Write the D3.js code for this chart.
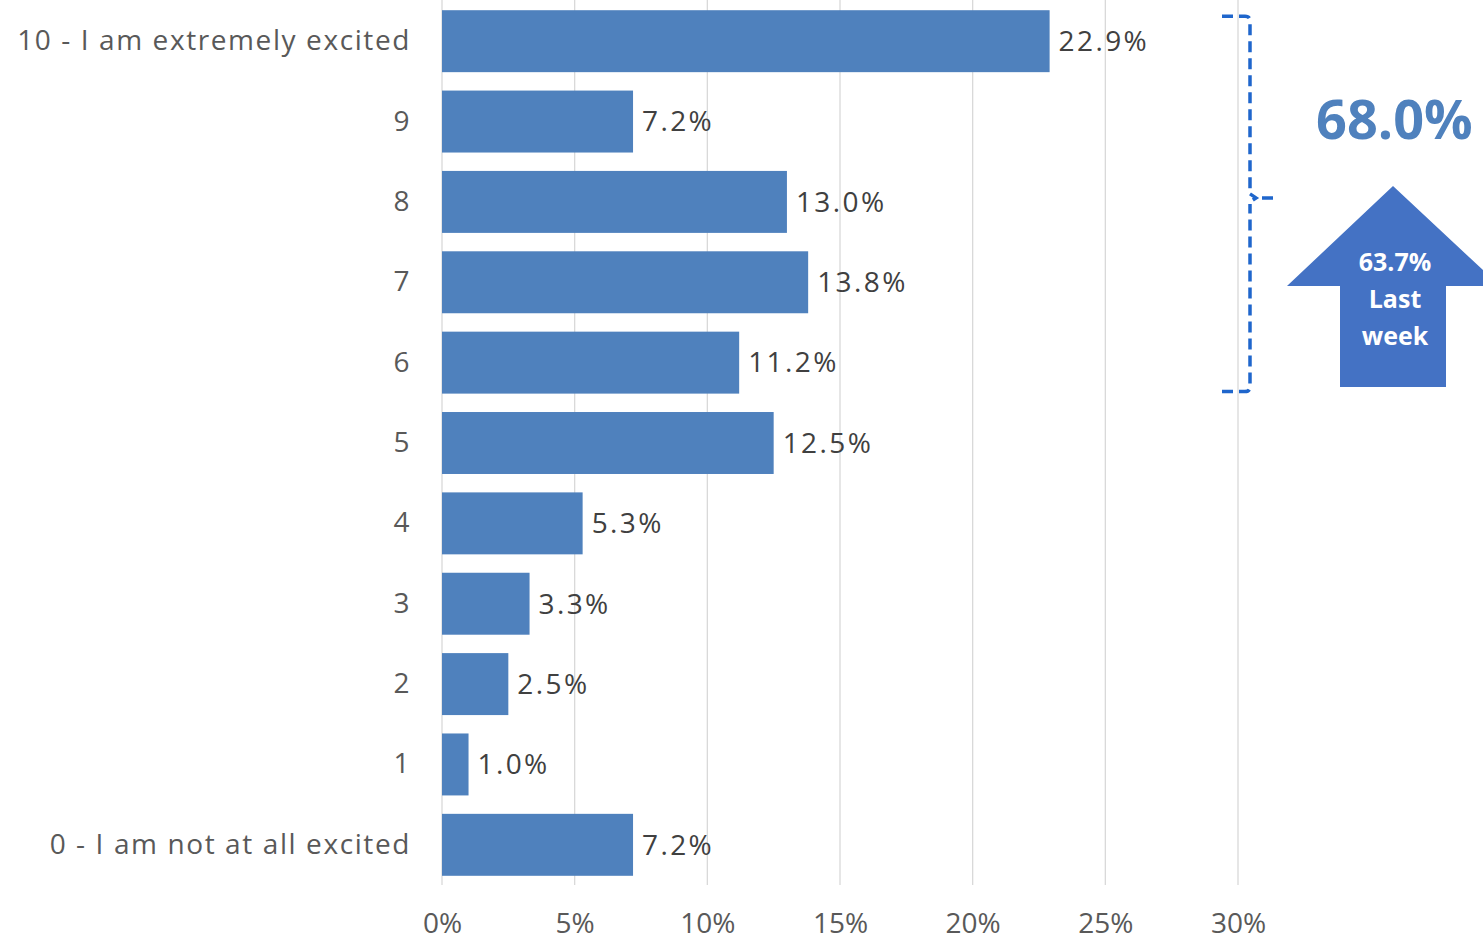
<!DOCTYPE html>
<html><head><meta charset="utf-8">
<script src="https://cdn.jsdelivr.net/npm/d3@7"></script>
<style>body{margin:0;background:#fff;overflow:hidden}svg{display:block}</style>
</head><body>
<svg id="c" width="1483" height="941"></svg>
<script>
const categories = ["10 - I am extremely excited","9","8","7","6","5","4","3","2","1","0 - I am not at all excited"];
const values = [22.9,7.2,13.0,13.8,11.2,12.5,5.3,3.3,2.5,1.0,7.2];
const ticks = [0,5,10,15,20,25,30];
const totalLabel = "68.0%";
const lastWeekLines = ["63.7%","Last","week"];

(function(){
const font = "'Open Sans', sans-serif";
const svg = d3.select("#c");
const x = d3.scaleLinear().domain([0,30]).range([442,1238]);
const y = d3.scaleBand().domain(categories).range([1,885]).paddingInner(0.229).paddingOuter(0.1145);

// gridlines
svg.append("g").selectAll("line").data(ticks).join("line")
  .attr("x1",d=>x(d)).attr("x2",d=>x(d)).attr("y1",0).attr("y2",885)
  .attr("stroke","#d9d9d9").attr("stroke-width",1.3);

// x axis labels
const xAxis = d3.axisBottom(x).tickValues(ticks).tickFormat(d=>d+"%").tickSize(0).tickPadding(0);
const gx = svg.append("g").attr("transform","translate(0,913)").call(xAxis);
gx.select(".domain").remove();
gx.selectAll("text").attr("font-family",font).attr("font-size",28).attr("fill","#595959").attr("dy","0.71em");

// y axis labels
const yAxis = d3.axisLeft(y).tickSize(0).tickPadding(0);
const gy = svg.append("g").attr("transform","translate(411,0)").call(yAxis);
gy.select(".domain").remove();
gy.selectAll("text").attr("font-family",font).attr("font-size",28).attr("fill","#595959").attr("letter-spacing","1.6px");

// bars
svg.append("g").selectAll("rect").data(values).join("rect")
  .attr("x",x(0)).attr("y",(d,i)=>y(categories[i]))
  .attr("width",d=>x(d)-x(0)).attr("height",y.bandwidth())
  .attr("fill","#4f81bd");

// value labels
svg.append("g").selectAll("text").data(values).join("text")
  .attr("x",d=>x(d)+9).attr("y",(d,i)=>y(categories[i])+y.bandwidth()/2)
  .attr("dy","0.35em").attr("font-family",font).attr("font-size",28)
  .attr("fill","#404040").attr("letter-spacing","2.4px")
  .text(d=>d.toFixed(1)+"%");

// bracket
const bTop = y(categories[0])+6, bBot = y(categories[4])+y.bandwidth()-2;
const bMid = (bTop+bBot)/2-6;
const bx = 1250;
const bg = svg.append("g").attr("fill","none").attr("stroke","#1f66cc").attr("stroke-width",3.5).attr("stroke-dasharray","11,6");
bg.append("path").attr("d",`M1222,${bBot} L${bx-5},${bBot} Q${bx},${bBot} ${bx},${bBot-5} L${bx},${bMid+6}`);
bg.append("path").attr("d",`M1222,${bTop} L${bx-5},${bTop} Q${bx},${bTop} ${bx},${bTop+5} L${bx},${bMid-6}`);
bg.append("path").attr("d",`M${bx},${bMid-4} L${bx+6},${bMid} L${bx},${bMid+4} M${bx+12},${bMid} L1276,${bMid}`).attr("stroke-dasharray",null);

// big total
svg.append("text").attr("x",1316).attr("y",139).attr("font-family",font).attr("font-weight","bold")
  .attr("font-size",54).attr("fill","#4f81bd").text(totalLabel);

// arrow
svg.append("path").attr("d","M1393,186 L1500,286 L1446,286 L1446,387 L1340,387 L1340,286 L1287,286 Z").attr("fill","#4472c4");
svg.append("g").selectAll("text").data(lastWeekLines).join("text")
  .attr("x",1395).attr("y",(d,i)=>262+i*37).attr("dy","0.35em").attr("text-anchor","middle")
  .attr("font-family",font).attr("font-weight","bold").attr("font-size",25).attr("fill","#fff").text(d=>d);
})();
</script>
</body></html>
